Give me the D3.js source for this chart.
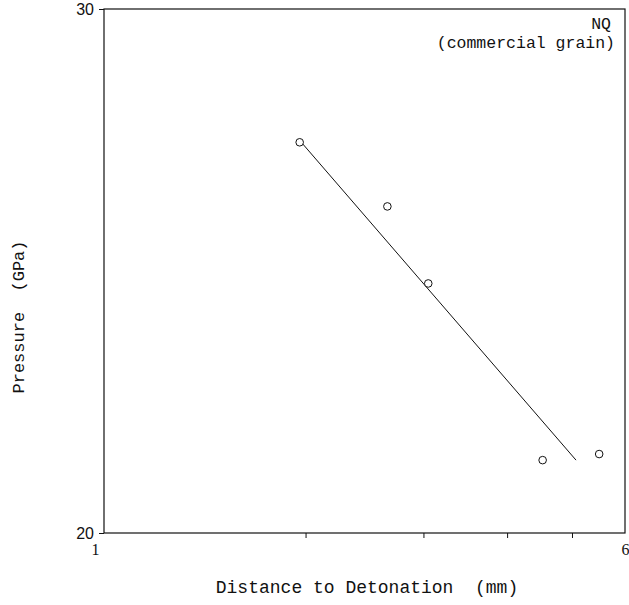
<!DOCTYPE html>
<html><head><meta charset="utf-8">
<script src="https://cdn.jsdelivr.net/npm/d3@7"></script>
<style>body{margin:0;background:#fff}svg{display:block}</style>
</head><body>
<script>
const distances = [1.96, 2.65, 3.05, 4.52, 5.49];
const pressures = [27.06, 25.75, 24.26, 21.16, 21.26];
const fitX = [1.96, 5.07];
const fitY = [27.1, 21.16];
const xTicks = [1, 2, 3, 4, 5, 6];
const yTicks = [20, 30];
const xLabels = ["1", "6"];

const W = 629, H = 605;
const svg = d3.select("body").append("svg").attr("width", W).attr("height", H);
const x = d3.scaleLog().domain([1, 6]).range([104, 625]);
const y = d3.scaleLog().domain([20, 30]).range([533, 9]);

svg.append("rect").attr("x", 104).attr("y", 9).attr("width", 521).attr("height", 524)
  .attr("fill", "none").attr("stroke", "#111").attr("stroke-width", 1.2);

const xa = svg.append("g").attr("transform", "translate(0,533)")
  .call(d3.axisBottom(x).tickValues(xTicks).tickSize(5).tickSizeOuter(0)
    .tickFormat(d => xLabels.includes(String(d)) ? String(d) : ""));
xa.select(".domain").remove();
xa.selectAll("text").attr("font-family", "'Liberation Serif', serif").attr("font-size", 16).attr("fill", "#111").attr("dy", "0.85em");
xa.selectAll(".tick").filter(d => d === 1).select("text").attr("dx", -9);
xa.selectAll(".tick").filter(d => d === 1 || d === 6).select("line").attr("y2", 0);
xa.selectAll("line").attr("stroke", "#111");

const ya = svg.append("g").attr("transform", "translate(104,0)")
  .call(d3.axisLeft(y).tickValues(yTicks).tickSize(5).tickSizeOuter(0).tickFormat(d3.format("d")));
ya.select(".domain").remove();
ya.selectAll("text").attr("font-family", "'Liberation Sans', sans-serif").attr("font-size", 16).attr("fill", "#111").attr("x", -10);
ya.selectAll("line").attr("stroke", "#111");

svg.append("line")
  .attr("x1", x(fitX[0])).attr("y1", y(fitY[0]))
  .attr("x2", x(fitX[1])).attr("y2", y(fitY[1]))
  .attr("stroke", "#111").attr("stroke-width", 1);

svg.selectAll("circle.pt").data(distances).enter().append("circle")
  .attr("class", "pt")
  .attr("cx", d => x(d)).attr("cy", (d, i) => y(pressures[i]))
  .attr("r", 3.8).attr("fill", "#fff").attr("stroke", "#111").attr("stroke-width", 1);

const font = "'Liberation Mono', 'DejaVu Sans Mono', monospace";
svg.append("text").attr("x", 611).attr("y", 29).attr("text-anchor", "end")
  .attr("font-family", font).attr("font-size", 16.5).attr("fill", "#111").text("NQ");
svg.append("text").attr("x", 615).attr("y", 48).attr("text-anchor", "end")
  .attr("font-family", font).attr("font-size", 16.5).attr("fill", "#111").text("(commercial grain)");

svg.append("text").attr("x", 367).attr("y", 593).attr("text-anchor", "middle")
  .attr("font-family", font).attr("font-size", 18).attr("fill", "#111")
  .style("white-space", "pre")
  .text("Distance to Detonation  (mm)");

svg.append("text").attr("transform", "translate(24,317) rotate(-90)").attr("text-anchor", "middle")
  .attr("font-family", font).attr("font-size", 17).attr("fill", "#111")
  .style("white-space", "pre")
  .text("Pressure  (GPa)");
</script>
</body></html>
